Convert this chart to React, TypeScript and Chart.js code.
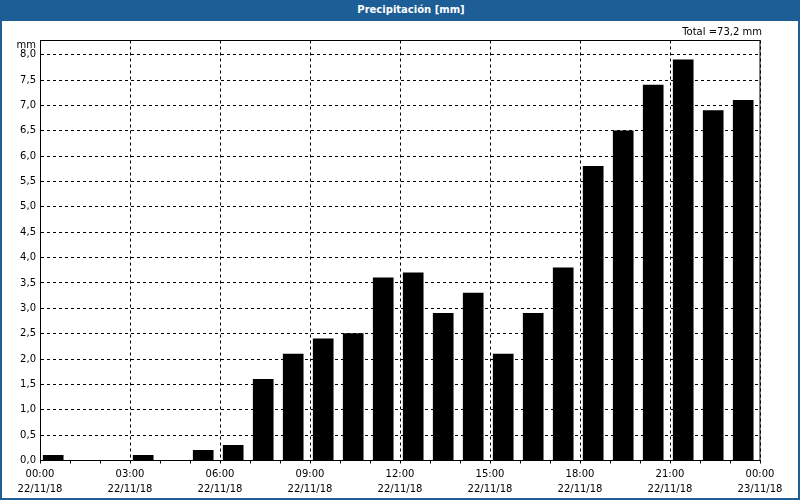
import React, { useEffect, useRef } from "react";
import { Chart, registerables } from "chart.js";

Chart.register(...registerables);

const hours: number[] = [0, 1, 2, 3, 4, 5, 6, 7, 8, 9, 10, 11, 12, 13, 14, 15, 16, 17, 18, 19, 20, 21, 22, 23];
const values: number[] = [0.1, 0, 0, 0.1, 0, 0.2, 0.3, 1.6, 2.1, 2.4, 2.5, 3.6, 3.7, 2.9, 3.3, 2.1, 2.9, 3.8, 5.8, 6.5, 7.4, 7.9, 6.9, 7.1];
const timeLabels: string[] = ["00:00", "03:00", "06:00", "09:00", "12:00", "15:00", "18:00", "21:00", "00:00"];
const dateLabels: string[] = ["22/11/18", "22/11/18", "22/11/18", "22/11/18", "22/11/18", "22/11/18", "22/11/18", "22/11/18", "23/11/18"];
const titleText = "Precipitación [mm]";
const totalText = "Total =73,2 mm";
const unitText = "mm";

const FONT = "'DejaVu Sans', sans-serif";

export default function App() {
  const ref = useRef<HTMLCanvasElement | null>(null);

  useEffect(() => {
    const canvas = ref.current;
    if (!canvas) return;
    const framePlugin = {
      id: "frame",
      afterDraw(chart: any) {
        const { ctx, chartArea } = chart;
        ctx.save();
        ctx.strokeStyle = "#000";
        ctx.lineWidth = 1;
        ctx.strokeRect(
          Math.round(chartArea.left) + 0.5,
          Math.round(chartArea.top - 0.5) + 0.5,
          Math.round(chartArea.right - chartArea.left) - 0.5,
          Math.round(chartArea.bottom - chartArea.top)
        );
        ctx.fillStyle = "#000";
        ctx.font = "10px " + FONT;
        ctx.textBaseline = "middle";
        ctx.textAlign = "right";
        ctx.fillText(totalText, 762, 32.5);
        ctx.fillText(unitText, 36, 45);
        ctx.restore();
      },
    };

    const chart = new Chart(canvas, {
      type: "bar",
      data: {
        datasets: [
          {
            data: hours.map((h, i) => ({ x: h + 0.44, y: values[i] })),
            backgroundColor: "#000",
            borderWidth: 0,
            barThickness: 20,
          } as any,
        ],
      },
      options: {
        responsive: false,
        animation: false,
        layout: { padding: { left: 0, top: 40.5, right: 40, bottom: 0 } },
        plugins: { legend: { display: false }, tooltip: { enabled: false }, title: { display: false } },
        scales: {
          x: {
            type: "linear",
            min: 0,
            max: 24,
            offset: false,
            afterFit: (s: any) => {
              s.height = 39.5;
            },
            afterBuildTicks: (s: any) => {
              s.ticks = hours.concat([24]).map((h) => ({ value: h }));
            },
            grid: {
              offset: false,
              color: (c: any) => (c.tick && c.tick.value % 3 === 0 ? "#000" : "rgba(0,0,0,0)"),
              tickColor: "#000",
              tickLength: 3,
              lineWidth: 1,
              drawTicks: true,
            },
            border: { display: true, color: "#000", dash: [3, 3] },
            ticks: {
              autoSkip: false,
              maxRotation: 0,
              minRotation: 0,
              padding: 3,
              color: "#000",
              font: { family: FONT, size: 10, lineHeight: 1.55 },
              callback: (v: any) => {
                const n = Number(v);
                if (n % 3 !== 0) return "";
                const i = n / 3;
                return [timeLabels[i], dateLabels[i]];
              },
            },
          },
          y: {
            min: 0,
            max: 8.28,
            afterFit: (s: any) => {
              s.width = 40;
            },
            grid: { color: "#000", lineWidth: 1, drawTicks: false },
            border: { display: true, color: "#000", dash: [3, 3] },
            ticks: {
              stepSize: 0.5,
              includeBounds: false,
              padding: 4,
              color: "#000",
              font: { family: FONT, size: 10 },
              callback: (v: any) => Number(v).toFixed(1).replace(".", ","),
            },
          },
        },
      } as any,
      plugins: [framePlugin],
    });
    return () => chart.destroy();
  }, []);

  return (
    <div style={{ position: "absolute", left: 0, top: 0, width: 800, height: 500, background: "#1d5e96" }}>
      <div style={{ position: "absolute", left: 2, top: 21, width: 796, height: 477, background: "#fff" }} />
      <div
        style={{
          position: "absolute",
          left: 22,
          top: 0,
          width: 778,
          height: 21,
          lineHeight: "20px",
          textAlign: "center",
          color: "#fff",
          fontFamily: FONT,
          fontWeight: "bold",
          fontSize: 10,
        }}
      >
        {titleText}
      </div>
      <canvas ref={ref} width={800} height={500} style={{ position: "absolute", left: 0, top: 0, width: 800, height: 500 }} />
    </div>
  );
}
